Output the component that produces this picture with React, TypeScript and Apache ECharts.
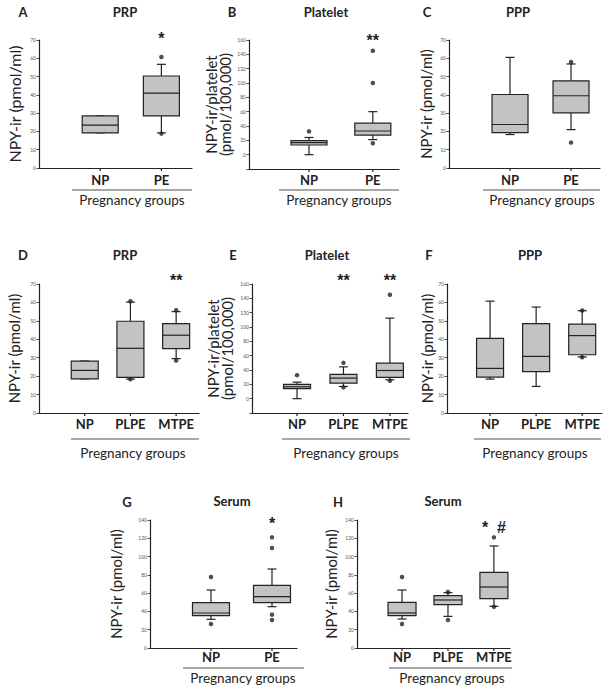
import React, { useEffect, useRef } from 'react';
import * as echarts from 'echarts';

const FONT = 'Lato, "Noto Sans", sans-serif';
const SIG_FONT = '"Liberation Sans", Arial, sans-serif';

// ---------- data ----------
const groupsTwo = ['NP', 'PE'];
const groupsThree = ['NP', 'PLPE', 'MTPE'];
const panelLetters = ['A', 'B', 'C', 'D', 'E', 'F', 'G', 'H'];
const panelTitles = ['PRP', 'Platelet', 'PPP', 'PRP', 'Platelet', 'PPP', 'Serum', 'Serum'];
const xAxisTitle = 'Pregnancy groups';
const yTitleConc = 'NPY-ir (pmol/ml)';
const yTitlePlatelet = 'NPY-ir/platelet\n(pmol/100,000)';

// y-axis ranges (min, max, step)
const yMinList = [0, -20, 0, 0, -20, 0, 0, 0];
const yMaxList = [70, 160, 70, 70, 160, 70, 140, 140];
const yStepList = [10, 20, 10, 10, 20, 10, 20, 20];

// five-number summaries per group: [min, Q1, median, Q3, max]
const boxA = [[19.2, 19.2, 23.4, 28.5, 28.5], [19.2, 28.5, 40.9, 50.3, 56.7]];
const boxB = [[0, 13.5, 16.7, 19.5, 24], [21, 27.4, 33, 44, 60]];
const boxC = [[18.3, 19.4, 23.8, 40.2, 60.5], [21, 30.2, 39.5, 47.7, 56.9]];
const boxD = [[18.5, 18.5, 23.1, 28.2, 28.2], [18.4, 19.3, 35.1, 49.8, 60.2], [29.5, 34.9, 42.2, 48.5, 55]];
const boxE = [[0, 13.9, 16.6, 19.9, 23], [17, 21.7, 28.7, 33.8, 44.4], [26.4, 29.6, 39.3, 49.5, 112.4]];
const boxF = [[18.4, 19.5, 24.2, 40.5, 60.7], [14.4, 22.4, 30.7, 48.5, 57.5], [30.4, 31.6, 42, 48.2, 55.5]];
const boxG = [[31.4, 35.4, 38.3, 49.6, 63.4], [45.2, 49.6, 56.1, 68.5, 86.4]];
const boxH = [[31.7, 35.4, 38.3, 49.9, 63.4], [34.6, 47.4, 52.5, 57.2, 60.5], [45.6, 54, 66.7, 82.8, 111.6]];

// outliers per group
const outA = [[], [60.7, 18.8]];
const outB = [[32.5], [16, 100, 145]];
const outC = [[], [58, 13.9]];
const outD = [[], [60.6, 18.3], [55.8, 28.5]];
const outE = [[32.8], [50, 15.7], [25, 145]];
const outF = [[], [], [55.6, 30.2]];
const outG = [[77.7, 26.2], [109.4, 121, 36.5, 30.6]];
const outH = [[77.7, 26.2], [61.2, 30.6], [121, 45]];

// significance marks and the level they sit at
const sigA = ['', '*'];
const sigB = ['', '**'];
const sigC = ['', ''];
const sigD = ['', '', '**'];
const sigE = ['', '**', '**'];
const sigF = ['', '', ''];
const sigG = ['', '*'];
const sigH = ['', '', '*  #'];
const sigLevels = [74, 168, 74, 75, 172.6, 75, 143, 138];

const panelData = [
  { cats: groupsTwo, box: boxA, out: outA, sig: sigA, yTitle: yTitleConc },
  { cats: groupsTwo, box: boxB, out: outB, sig: sigB, yTitle: yTitlePlatelet },
  { cats: groupsTwo, box: boxC, out: outC, sig: sigC, yTitle: yTitleConc },
  { cats: groupsThree, box: boxD, out: outD, sig: sigD, yTitle: yTitleConc },
  { cats: groupsThree, box: boxE, out: outE, sig: sigE, yTitle: yTitlePlatelet },
  { cats: groupsThree, box: boxF, out: outF, sig: sigF, yTitle: yTitleConc },
  { cats: groupsTwo, box: boxG, out: outG, sig: sigG, yTitle: yTitleConc },
  { cats: groupsThree, box: boxH, out: outH, sig: sigH, yTitle: yTitleConc },
];

// ---------- layout ----------
const layouts = [
  { left: 39, top: 40, width: 153, height: 128, xMin: 0, xMax: 2.5, boxW: 36, nameGap: 18, nameSize: 16, labelDy: 12, letter: [23, 12], title: [125, 12], uline: [72, 192, 190], pg: [132, 200] },
  { left: 249, top: 40, width: 150, height: 129, xMin: 0.06, xMax: 2.41, boxW: 36, nameGap: 17, nameSize: 15, labelDy: 11, letter: [232, 12], title: [326, 12], uline: [279, 399, 190], pg: [339, 200] },
  { left: 449, top: 40, width: 151, height: 128, xMin: 0, xMax: 2.475, boxW: 36, nameGap: 16, nameSize: 15, labelDy: 12, letter: [427, 12], title: [518, 12], uline: [483, 600, 190], pg: [542, 200] },
  { left: 39, top: 284, width: 160, height: 129, xMin: 0, xMax: 3.5, boxW: 27, nameGap: 18, nameSize: 15, labelDy: 11, letter: [23, 255], title: [125, 255], uline: [71, 199, 439], pg: [133, 453] },
  { left: 252, top: 284, width: 156, height: 129, xMin: 0.03, xMax: 3.39, boxW: 27, nameGap: 18, nameSize: 15, labelDy: 11, letter: [233, 255], title: [327, 255], uline: [282, 410, 439], pg: [346, 453] },
  { left: 447, top: 284, width: 155, height: 129, xMin: 0.065, xMax: 3.43, boxW: 27, nameGap: 11, nameSize: 15, labelDy: 11, letter: [429, 255], title: [530, 255], uline: [474, 601, 439], pg: [535, 453] },
  { left: 150, top: 520, width: 147, height: 128, xMin: 0, xMax: 2.41, boxW: 37, nameGap: 27, nameSize: 15, labelDy: 9, letter: [127, 502], title: [232, 501], uline: [183, 304, 668], pg: [243, 678] },
  { left: 357, top: 520, width: 153, height: 128, xMin: 0.02, xMax: 3.35, boxW: 28, nameGap: 19, nameSize: 15, labelDy: 9, letter: [338, 502], title: [443, 501], uline: [389, 512, 668], pg: [452, 678] },
];

const INK = '#222';
const BOX_FILL = '#c3c3c3';

function textEl(x: number, y: number, text: string, size: number, weight: string) {
  return {
    type: 'text',
    x,
    y,
    silent: true,
    style: {
      text,
      fill: INK,
      fontSize: size,
      fontWeight: weight,
      fontFamily: FONT,
      textAlign: 'center',
      textVerticalAlign: 'middle',
      align: 'center',
      verticalAlign: 'middle',
    },
  };
}

function buildOption() {
  const grid: any[] = [];
  const xAxis: any[] = [];
  const yAxis: any[] = [];
  const series: any[] = [];
  const graphic: any[] = [];

  panelData.forEach((pd, p) => {
    const L = layouts[p];
    const yMin = yMinList[p];
    grid.push({ left: L.left, top: L.top, width: L.width, height: L.height });
    xAxis.push({
      type: 'value',
      gridIndex: p,
      min: L.xMin,
      max: L.xMax,
      axisLine: { show: true, onZero: false, lineStyle: { color: INK, width: 1.2 } },
      axisTick: { show: false },
      axisLabel: { show: false },
      splitLine: { show: false },
    });
    yAxis.push({
      type: 'value',
      gridIndex: p,
      min: yMin,
      max: yMaxList[p],
      interval: yStepList[p],
      name: pd.yTitle,
      nameLocation: 'middle',
      nameGap: L.nameGap,
      nameRotate: 90,
      nameTextStyle: { color: INK, fontSize: L.nameSize, fontFamily: FONT, lineHeight: 14 },
      axisLine: { show: true, onZero: false, lineStyle: { color: INK, width: 1.2 } },
      axisTick: { show: true, length: 2.5, lineStyle: { color: INK, width: 0.8 } },
      axisLabel: {
        fontSize: 5,
        color: '#555',
        margin: 3,
        fontFamily: FONT,
        formatter: (v: number) => (v < 0 ? '' : String(v)),
      },
      splitLine: { show: false },
    });

    const sigAt = sigLevels[p];
    series.push({
      type: 'custom',
      xAxisIndex: p,
      yAxisIndex: p,
      clip: false,
      data: pd.box.map((b, i) => [i + 1, ...b]),
      renderItem: (params: any, api: any) => {
        const i = params.dataIndex;
        const x = api.value(0);
        const ys = [1, 2, 3, 4, 5].map((k) => api.coord([x, api.value(k)])[1]);
        const [lo, q1, med, q3, hi] = ys;
        const basePt = api.coord([x, yMin]);
        const cx = basePt[0];
        const base = basePt[1];
        const hw = L.boxW / 2;
        const cw = 4.5;
        const ln = (x1: number, y1: number, x2: number, y2: number) => ({
          type: 'line',
          shape: { x1, y1, x2, y2 },
          style: { stroke: INK, lineWidth: 1.2 },
        });
        const children: any[] = [
          ln(cx, q3, cx, hi),
          ln(cx - cw, hi, cx + cw, hi),
          ln(cx, q1, cx, lo),
          ln(cx - cw, lo, cx + cw, lo),
          {
            type: 'rect',
            shape: { x: cx - hw, y: q3, width: hw * 2, height: q1 - q3 },
            style: { fill: BOX_FILL, stroke: INK, lineWidth: 1.2 },
          },
          ln(cx - hw, med, cx + hw, med),
          ln(cx, base, cx, base + 3),
          {
            type: 'text',
            x: cx,
            y: base + L.labelDy,
            style: {
              text: pd.cats[i],
              fill: INK,
              fontSize: 13,
              fontWeight: 'bold',
              fontFamily: FONT,
              align: 'center',
              verticalAlign: 'middle',
            },
          },
        ];
        if (pd.sig[i]) {
          children.push({
            type: 'text',
            x: cx,
            y: api.coord([x, sigAt])[1] + 6,
            style: {
              text: pd.sig[i],
              fill: INK,
              fontSize: 16,
              fontWeight: 'bold',
              fontFamily: SIG_FONT,
              align: 'center',
              verticalAlign: 'middle',
            },
          });
        }
        return { type: 'group', children };
      },
    });

    const pts: number[][] = [];
    pd.out.forEach((list, i) => list.forEach((v) => pts.push([i + 1, v])));
    series.push({
      type: 'scatter',
      xAxisIndex: p,
      yAxisIndex: p,
      symbol: 'circle',
      symbolSize: 4.5,
      itemStyle: { color: INK },
      data: pts,
    });

    graphic.push(textEl(L.letter[0], L.letter[1], panelLetters[p], 13, 'bold'));
    graphic.push(textEl(L.title[0], L.title[1], panelTitles[p], 13, 'bold'));
    graphic.push({
      type: 'line',
      silent: true,
      shape: { x1: L.uline[0], y1: L.uline[2], x2: L.uline[1], y2: L.uline[2] },
      style: { stroke: '#a8a8a8', lineWidth: 2 },
    });
    graphic.push(textEl(L.pg[0], L.pg[1], xAxisTitle, 13.5, 'normal'));
  });

  return {
    animation: false,
    backgroundColor: '#ffffff',
    textStyle: { fontFamily: FONT },
    grid,
    xAxis,
    yAxis,
    series,
    graphic,
  };
}

export default function App() {
  const ref = useRef<HTMLDivElement>(null);
  useEffect(() => {
    document.body.style.margin = '0';
    if (!ref.current) return;
    const chart = echarts.init(ref.current, undefined, { renderer: 'svg' });
    chart.setOption(buildOption() as any);
    return () => chart.dispose();
  }, []);
  return <div ref={ref} style={{ width: 612, height: 692 }} />;
}
